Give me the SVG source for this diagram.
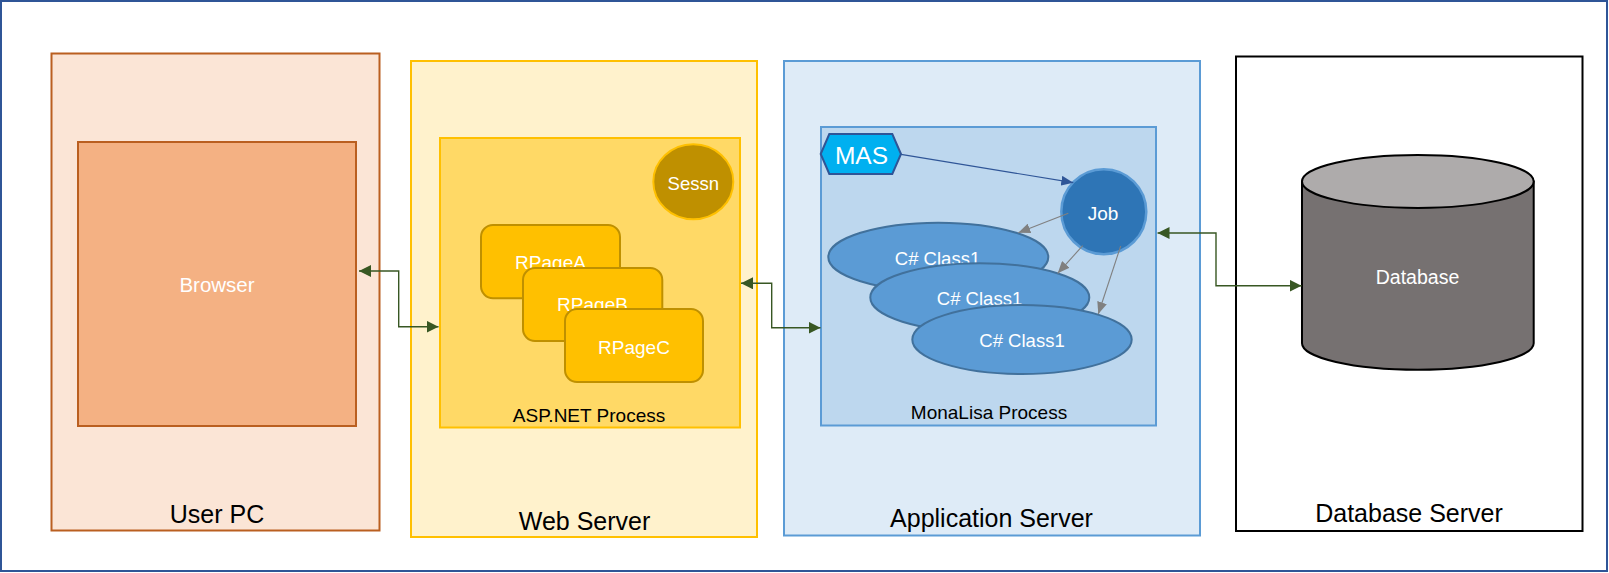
<svg xmlns="http://www.w3.org/2000/svg" width="1609" height="573" viewBox="0 0 1609 573">
<style>
text{font-family:"Liberation Sans",Arial,sans-serif;text-anchor:middle}
.w{fill:#FFFFFF}
.k{fill:#000000}
.big{font-size:25px}
.proc{font-size:19px}
.lbl{font-size:19px}
.green{fill:none;stroke:#385723;stroke-width:1.4}
.gray{fill:none;stroke:#808080;stroke-width:1.1}
.navy{fill:none;stroke:#2F5597;stroke-width:1.2}
.rpage{fill:#FFC000;stroke:#BF9000;stroke-width:2}
.cls{fill:#5B9BD5;stroke:#41719C;stroke-width:2}
</style>
<defs>
<marker id="ag" markerUnits="userSpaceOnUse" markerWidth="12" markerHeight="12" refX="12" refY="6" orient="auto-start-reverse" viewBox="0 0 12 12"><path d="M0,0 L12,6 L0,12 z" fill="#385723"/></marker>
<marker id="ay" markerUnits="userSpaceOnUse" markerWidth="12" markerHeight="10" refX="12" refY="5" orient="auto" viewBox="0 0 12 10"><path d="M0,0 L12,5 L0,10 z" fill="#808080"/></marker>
<marker id="an" markerUnits="userSpaceOnUse" markerWidth="12" markerHeight="10" refX="12" refY="5" orient="auto" viewBox="0 0 12 10"><path d="M0,0 L12,5 L0,10 z" fill="#2F5597"/></marker>
</defs>
<rect x="0" y="0" width="1609" height="573" fill="#FFFFFF"/>
<rect id="frame" x="1" y="1" width="1606" height="570" fill="none" stroke="#2F5597" stroke-width="2"/>

<g id="userpc">
<rect x="51.5" y="53.5" width="328" height="477" fill="#FBE5D6" stroke="#BA5F20" stroke-width="2"/>
<text class="k big" x="217" y="522.5">User PC</text>
</g>
<g id="browser">
<rect x="78" y="142" width="278" height="284" fill="#F4B183" stroke="#BA5F20" stroke-width="2"/>
<text class="w" x="217" y="292" font-size="20.5">Browser</text>
</g>

<g id="webserver">
<rect x="411" y="61" width="346" height="476" fill="#FFF2CC" stroke="#FFC000" stroke-width="2"/>
<text class="k big" x="584.5" y="529.5">Web Server</text>
</g>
<g id="aspnet">
<rect x="440" y="138" width="300" height="289.5" fill="#FFD966" stroke="#FFC000" stroke-width="2"/>
<text class="k proc" x="589" y="421.5">ASP.NET Process</text>
</g>
<g id="sessn">
<ellipse cx="693.3" cy="181.7" rx="40" ry="37.5" fill="#BF9000" stroke="#FFC000" stroke-width="2"/>
<text class="w" x="693.3" y="189.5" font-size="18.5">Sessn</text>
</g>
<g id="rpagea">
<rect class="rpage" x="481" y="225" width="139" height="73.3" rx="12"/>
<text class="w lbl" x="550.5" y="268.5">RPageA</text>
</g>
<g id="rpageb">
<rect class="rpage" x="523" y="268" width="139.3" height="73" rx="12"/>
<text class="w lbl" x="592.5" y="310.5">RPageB</text>
</g>
<g id="rpagec">
<rect class="rpage" x="565" y="309" width="138" height="73" rx="12"/>
<text class="w lbl" x="634" y="353.5">RPageC</text>
</g>

<g id="appserver">
<rect x="784" y="61" width="416" height="474.5" fill="#DEEBF7" stroke="#5B9BD5" stroke-width="2"/>
<text class="k big" x="991.5" y="527">Application Server</text>
</g>
<g id="monalisa">
<rect x="821" y="127" width="335" height="298.5" fill="#BDD7EE" stroke="#5B9BD5" stroke-width="2"/>
<text class="k proc" x="989" y="419">MonaLisa Process</text>
</g>
<g id="class1a">
<ellipse class="cls" cx="938.3" cy="257" rx="110" ry="34.3"/>
<text class="w" x="937.5" y="265" font-size="18.5">C# Class1</text>
</g>
<g id="class1b">
<ellipse class="cls" cx="979.8" cy="297.5" rx="109.5" ry="34.2"/>
<text class="w" x="979.5" y="304.5" font-size="18.5">C# Class1</text>
</g>
<g id="class1c">
<ellipse class="cls" cx="1022" cy="339.5" rx="109.7" ry="34.5"/>
<text class="w" x="1022" y="346.7" font-size="18.5">C# Class1</text>
</g>
<g id="mas">
<polygon points="820.7,154 829.3,134 892.3,134 901,154 892.3,174 829.3,174" fill="#00B0F0" stroke="#2F5597" stroke-width="2"/>
<text class="w" x="861.5" y="163.5" font-size="24.5">MAS</text>
</g>
<g id="job">
<circle cx="1103.8" cy="211.7" r="42.5" fill="#2E75B6" stroke="#5B9BD5" stroke-width="2.5"/>
<text class="w" x="1103" y="220" font-size="19">Job</text>
</g>

<g id="dbserver">
<rect x="1236" y="56.5" width="346.5" height="474.5" fill="#FFFFFF" stroke="#000000" stroke-width="2"/>
<text class="k big" x="1409" y="521.5">Database Server</text>
</g>
<g id="database">
<path d="M1302,181.4 V343.2 A115.85,26.5 0 0 0 1533.7,343.2 V181.4 z" fill="#767171" stroke="#000000" stroke-width="2"/>
<ellipse cx="1417.85" cy="181.4" rx="115.85" ry="26.5" fill="#AEABAB" stroke="#000000" stroke-width="2"/>
<text class="w" x="1417.5" y="284" font-size="19.5">Database</text>
</g>

<g id="connectors">
<path class="green" d="M359,271 H398.7 V326.7 H438.5" marker-start="url(#ag)" marker-end="url(#ag)"/>
<path class="green" d="M741,283.3 H771.7 V327.7 H820.5" marker-start="url(#ag)" marker-end="url(#ag)"/>
<path class="green" d="M1157.5,233 H1216 V285.7 H1301.5" marker-start="url(#ag)" marker-end="url(#ag)"/>
<path class="navy" d="M901,154.3 L1073.3,182.7" marker-end="url(#an)"/>
<path class="gray" d="M1068.3,213.3 L1018.3,232.7" marker-end="url(#ay)"/>
<path class="gray" d="M1082.7,245.7 L1057.7,273.3" marker-end="url(#ay)"/>
<path class="gray" d="M1120.7,246 L1098.3,314" marker-end="url(#ay)"/>
</g>
</svg>
